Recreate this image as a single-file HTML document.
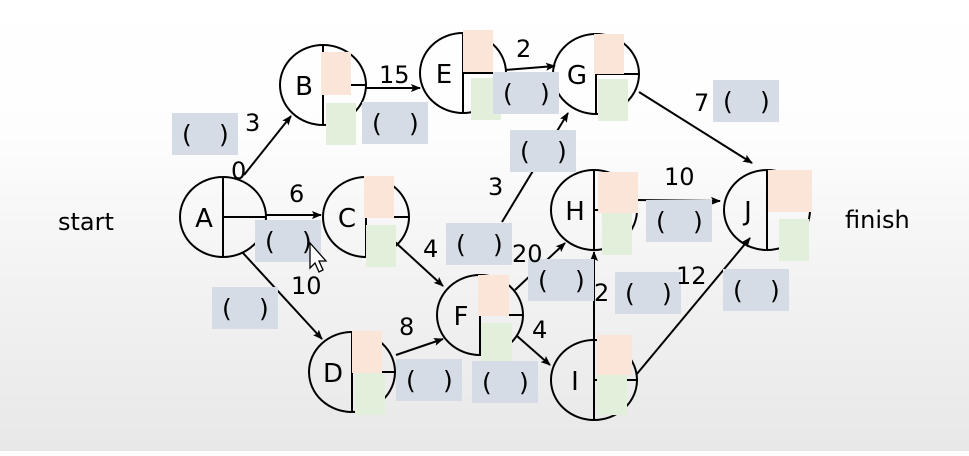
<!DOCTYPE html>
<html><head><meta charset="utf-8"><style>
html,body{margin:0;padding:0;}
body{width:969px;height:451px;overflow:hidden;background:linear-gradient(#ffffff 0%,#fdfdfd 30%,#f3f3f3 60%,#e8e8e8 100%);font-family:"Liberation Sans","DejaVu Sans",sans-serif;}
svg text{font-family:"DejaVu Sans","Liberation Sans",sans-serif;}
</style></head><body>
<svg id="net" width="969" height="451" viewBox="0 0 969 451">
<defs><marker id="ah" markerWidth="10" markerHeight="8" refX="9" refY="4" orient="auto" markerUnits="userSpaceOnUse"><path d="M0,0 L10,4 L0,8 L2,4 Z" fill="#000"/></marker></defs>
<g id="edges"></g><g id="nodes"></g><g id="labels"></g>
<text x="58" y="230" font-size="24">start</text>
<text x="845" y="228" font-size="24">finish</text>
<path d="M310,243 L310,268 L315,263 L319,272 L323,270 L319,261 L326,261 Z" fill="#fff" stroke="#000" stroke-width="1.3"/>
</svg>
<script>
const NS="http://www.w3.org/2000/svg";
function mk(t,a,p){const e=document.createElementNS(NS,t);for(const k in a)e.setAttribute(k,a[k]);p.appendChild(e);return e;}
const nodeNames=["A","B","C","D","E","F","G","H","I","J"];
const nodeX=[223,323,366,352,463,480,596,594,594,767];
const nodeY=[217,85,217,372,73,315,74,210,380,210];
const pinkBox=[null,[321,52,30,43],[364,176,30,42],[352,331,30,42],[463,30,30,42],[478,275,31,41],[594,34,30,40],[598,172,40,41],[597,335,35,40],[768,170,44,42]];
const greenBox=[null,[326,103,30,42],[366,225,30,42],[355,373,30,42],[471,78,30,42],[481,323,31,38],[598,79,30,42],[602,213,30,42],[597,375,30,40],[779,219,30,42]];
const edges=[[244,175,291,116],[266,215,321,215],[243,253,322,339],[366,88,420,88],[505,70,555,66],[639,92,752,163],[395,242,443,286],[396,355,443,339],[502,222,568,113],[515,290,565,243],[636,200,720,201],[594,340,594,252],[636,375,750,238],[517,336,550,365]];
const edgeNum=["3","0","6","10","15","2","7","3","4","20","10","12","2","8","4"];
const numX=[245,231,289,291,379,516,694,488,423,512,664,676,594,399,532];
const numY=[131,179,202,294,83,57,111,195,257,262,185,284,301,335,338];
const boxX=[172,255,212,362,493,510,446,528,646,615,723,713,396,472];
const boxY=[113,220,287,102,72,130,223,259,200,272,269,80,359,361];
const E=document.getElementById('edges'),N=document.getElementById('nodes'),L=document.getElementById('labels');
edges.forEach((e,i)=>{const l=mk('line',{x1:e[0],y1:e[1],x2:e[2],y2:e[3],stroke:'#000','stroke-width':2,'marker-end':'url(#ah)'},E);

});
nodeNames.forEach((n,i)=>{const g=mk('g',{},N);


const cx=nodeX[i],cy=nodeY[i];
mk('ellipse',{cx:cx,cy:cy,rx:43,ry:40,fill:'none',stroke:'#000','stroke-width':2},g);
mk('line',{x1:cx,y1:cy-40,x2:cx,y2:cy+40,stroke:'#000','stroke-width':2},g);
mk('line',{x1:cx,y1:cy,x2:cx+43,y2:cy,stroke:'#000','stroke-width':2},g);
const t=mk('text',{x:cx-19,y:cy+10,'font-size':26,'text-anchor':'middle'},g);t.textContent=n;
if(pinkBox[i]){const p=pinkBox[i],q=greenBox[i];
const r1=mk('rect',{x:p[0],y:p[1],width:p[2],height:p[3],fill:'#fbe5d8'},g);


const r2=mk('rect',{x:q[0],y:q[1],width:q[2],height:q[3],fill:'#e2efda'},g);

}});
boxX.forEach((x,i)=>{const g=mk('g',{},L);


mk('rect',{x:x,y:boxY[i],width:66,height:42,fill:'#d5dce6'},g);
const a=mk('text',{x:x+10,y:boxY[i]+30,'font-size':25},g);a.textContent='(';
const b=mk('text',{x:x+47,y:boxY[i]+30,'font-size':25},g);b.textContent=')';});
edgeNum.forEach((v,i)=>{const t=mk('text',{x:numX[i],y:numY[i],'font-size':24},L);t.textContent=v;

});
</script>
</body></html>
